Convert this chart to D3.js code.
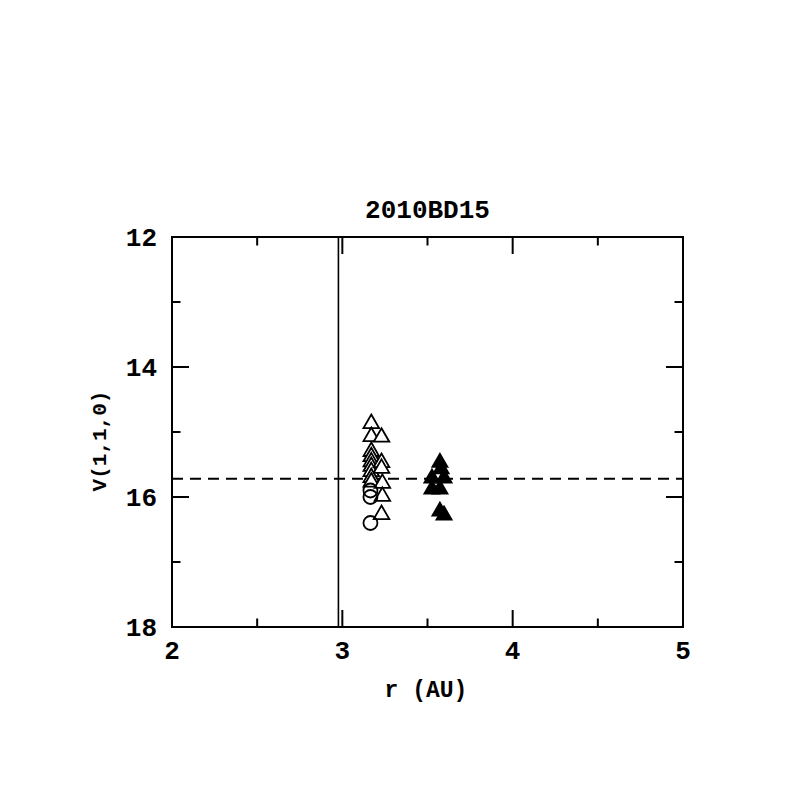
<!DOCTYPE html>
<html>
<head>
<meta charset="utf-8">
<script src="https://cdn.jsdelivr.net/npm/d3@7"></script>
<style>
body { margin: 0; background: #fff; }
text { font-family: "Liberation Mono", monospace; font-weight: bold; fill: #000; }
</style>
</head>
<body>
<svg id="chart" width="797" height="797"></svg>
<script>
// data
var titleText = "2010BD15";
var xLabel = "r (AU)", yLabel = "V(1,1,0)";
var xMajor = [2, 3, 4, 5], xMinor = [2.5, 3.5, 4.5];
var yMajor = [12, 14, 16, 18], yMinor = [13, 15, 17];

// open triangles
var openTriR = [3.17, 3.17, 3.17, 3.17, 3.17, 3.17, 3.17, 3.17, 3.17,
                3.23, 3.23, 3.23, 3.235, 3.235, 3.23];
var openTriV = [14.87, 15.07, 15.30, 15.38, 15.46, 15.53, 15.61, 15.70, 15.77,
                15.08, 15.47, 15.56, 15.79, 15.99, 16.27];
// open circles
var circR = [3.165, 3.165, 3.165];
var circV = [15.90, 16.00, 16.40];
// filled triangles
var fillTriR = [3.573, 3.58, 3.526, 3.597, 3.526, 3.573, 3.573, 3.597];
var fillTriV = [15.47, 15.57, 15.71, 15.71, 15.88, 15.88, 16.22, 16.28];

var vLineR = 2.977;   // vertical solid line
var hLineV = 15.72;   // horizontal dashed line

var svg = d3.select("#chart");
var pLeft = 172, pRight = 683, pTop = 237, pBottom = 627;
var x = d3.scaleLinear().domain([2, 5]).range([pLeft, pRight]);
var y = d3.scaleLinear().domain([12, 18]).range([pTop, pBottom]);

function xticks(vals, len)
{
	vals.forEach(function(v) {
		svg.append("line").attr("x1", x(v)).attr("x2", x(v)).attr("y1", pBottom).attr("y2", pBottom - len);
		svg.append("line").attr("x1", x(v)).attr("x2", x(v)).attr("y1", pTop).attr("y2", pTop + len);
	});
}
function yticks(vals, len)
{
	vals.forEach(function(v) {
		svg.append("line").attr("x1", pLeft).attr("x2", pLeft + len).attr("y1", y(v)).attr("y2", y(v));
		svg.append("line").attr("x1", pRight).attr("x2", pRight - len).attr("y1", y(v)).attr("y2", y(v));
	});
}
xticks(xMajor, 17); xticks(xMinor, 8.5);
yticks(yMajor, 17); yticks(yMinor, 8.5);
svg.selectAll("line").attr("stroke", "#000").attr("stroke-width", 2);

svg.append("rect").attr("x", pLeft).attr("y", pTop)
	.attr("width", pRight - pLeft).attr("height", pBottom - pTop)
	.attr("fill", "none").attr("stroke", "#000").attr("stroke-width", 2);

// reference lines
svg.append("line").attr("x1", x(vLineR)).attr("x2", x(vLineR)).attr("y1", pTop).attr("y2", pBottom)
	.attr("stroke", "#000").attr("stroke-width", 1.6);
svg.append("line").attr("x1", pLeft).attr("x2", pRight).attr("y1", y(hLineV)).attr("y2", y(hLineV))
	.attr("stroke", "#000").attr("stroke-width", 2).attr("stroke-dasharray", "11,7");

// tick labels
xMajor.forEach(function(v) {
	svg.append("text").attr("x", x(v)).attr("y", 659).attr("text-anchor", "middle")
		.attr("font-size", 26).text(v);
});
yMajor.forEach(function(v) {
	svg.append("text").attr("x", 157).attr("y", y(v) + 9).attr("text-anchor", "end")
		.attr("font-size", 26).text(v);
});

svg.append("text").attr("x", (pLeft + pRight) / 2).attr("y", 218).attr("text-anchor", "middle")
	.attr("font-size", 26).text(titleText);
svg.append("text").attr("x", 426).attr("y", 697).attr("text-anchor", "middle")
	.attr("font-size", 23).text(xLabel);
svg.append("text").attr("transform", "translate(106,441) rotate(-90)")
	.attr("text-anchor", "middle").attr("font-size", 21).text(yLabel);

// markers
var tri = d3.symbol().type(d3.symbolTriangle).size(105);
var g = svg.append("g");
d3.range(openTriR.length).forEach(function(i) {
	g.append("path").attr("d", tri()).attr("transform", "translate(" + x(openTriR[i]) + "," + y(openTriV[i]) + ")")
		.attr("fill", "#fff").attr("stroke", "#000").attr("stroke-width", 1.8);
});
d3.range(circR.length).forEach(function(i) {
	g.append("circle").attr("cx", x(circR[i])).attr("cy", y(circV[i])).attr("r", 7)
		.attr("fill", "none").attr("stroke", "#000").attr("stroke-width", 1.8);
});
d3.range(fillTriR.length).forEach(function(i) {
	g.append("path").attr("d", tri()).attr("transform", "translate(" + x(fillTriR[i]) + "," + y(fillTriV[i]) + ")")
		.attr("fill", "#000").attr("stroke", "#000").attr("stroke-width", 1.5);
});
</script>
</body>
</html>
